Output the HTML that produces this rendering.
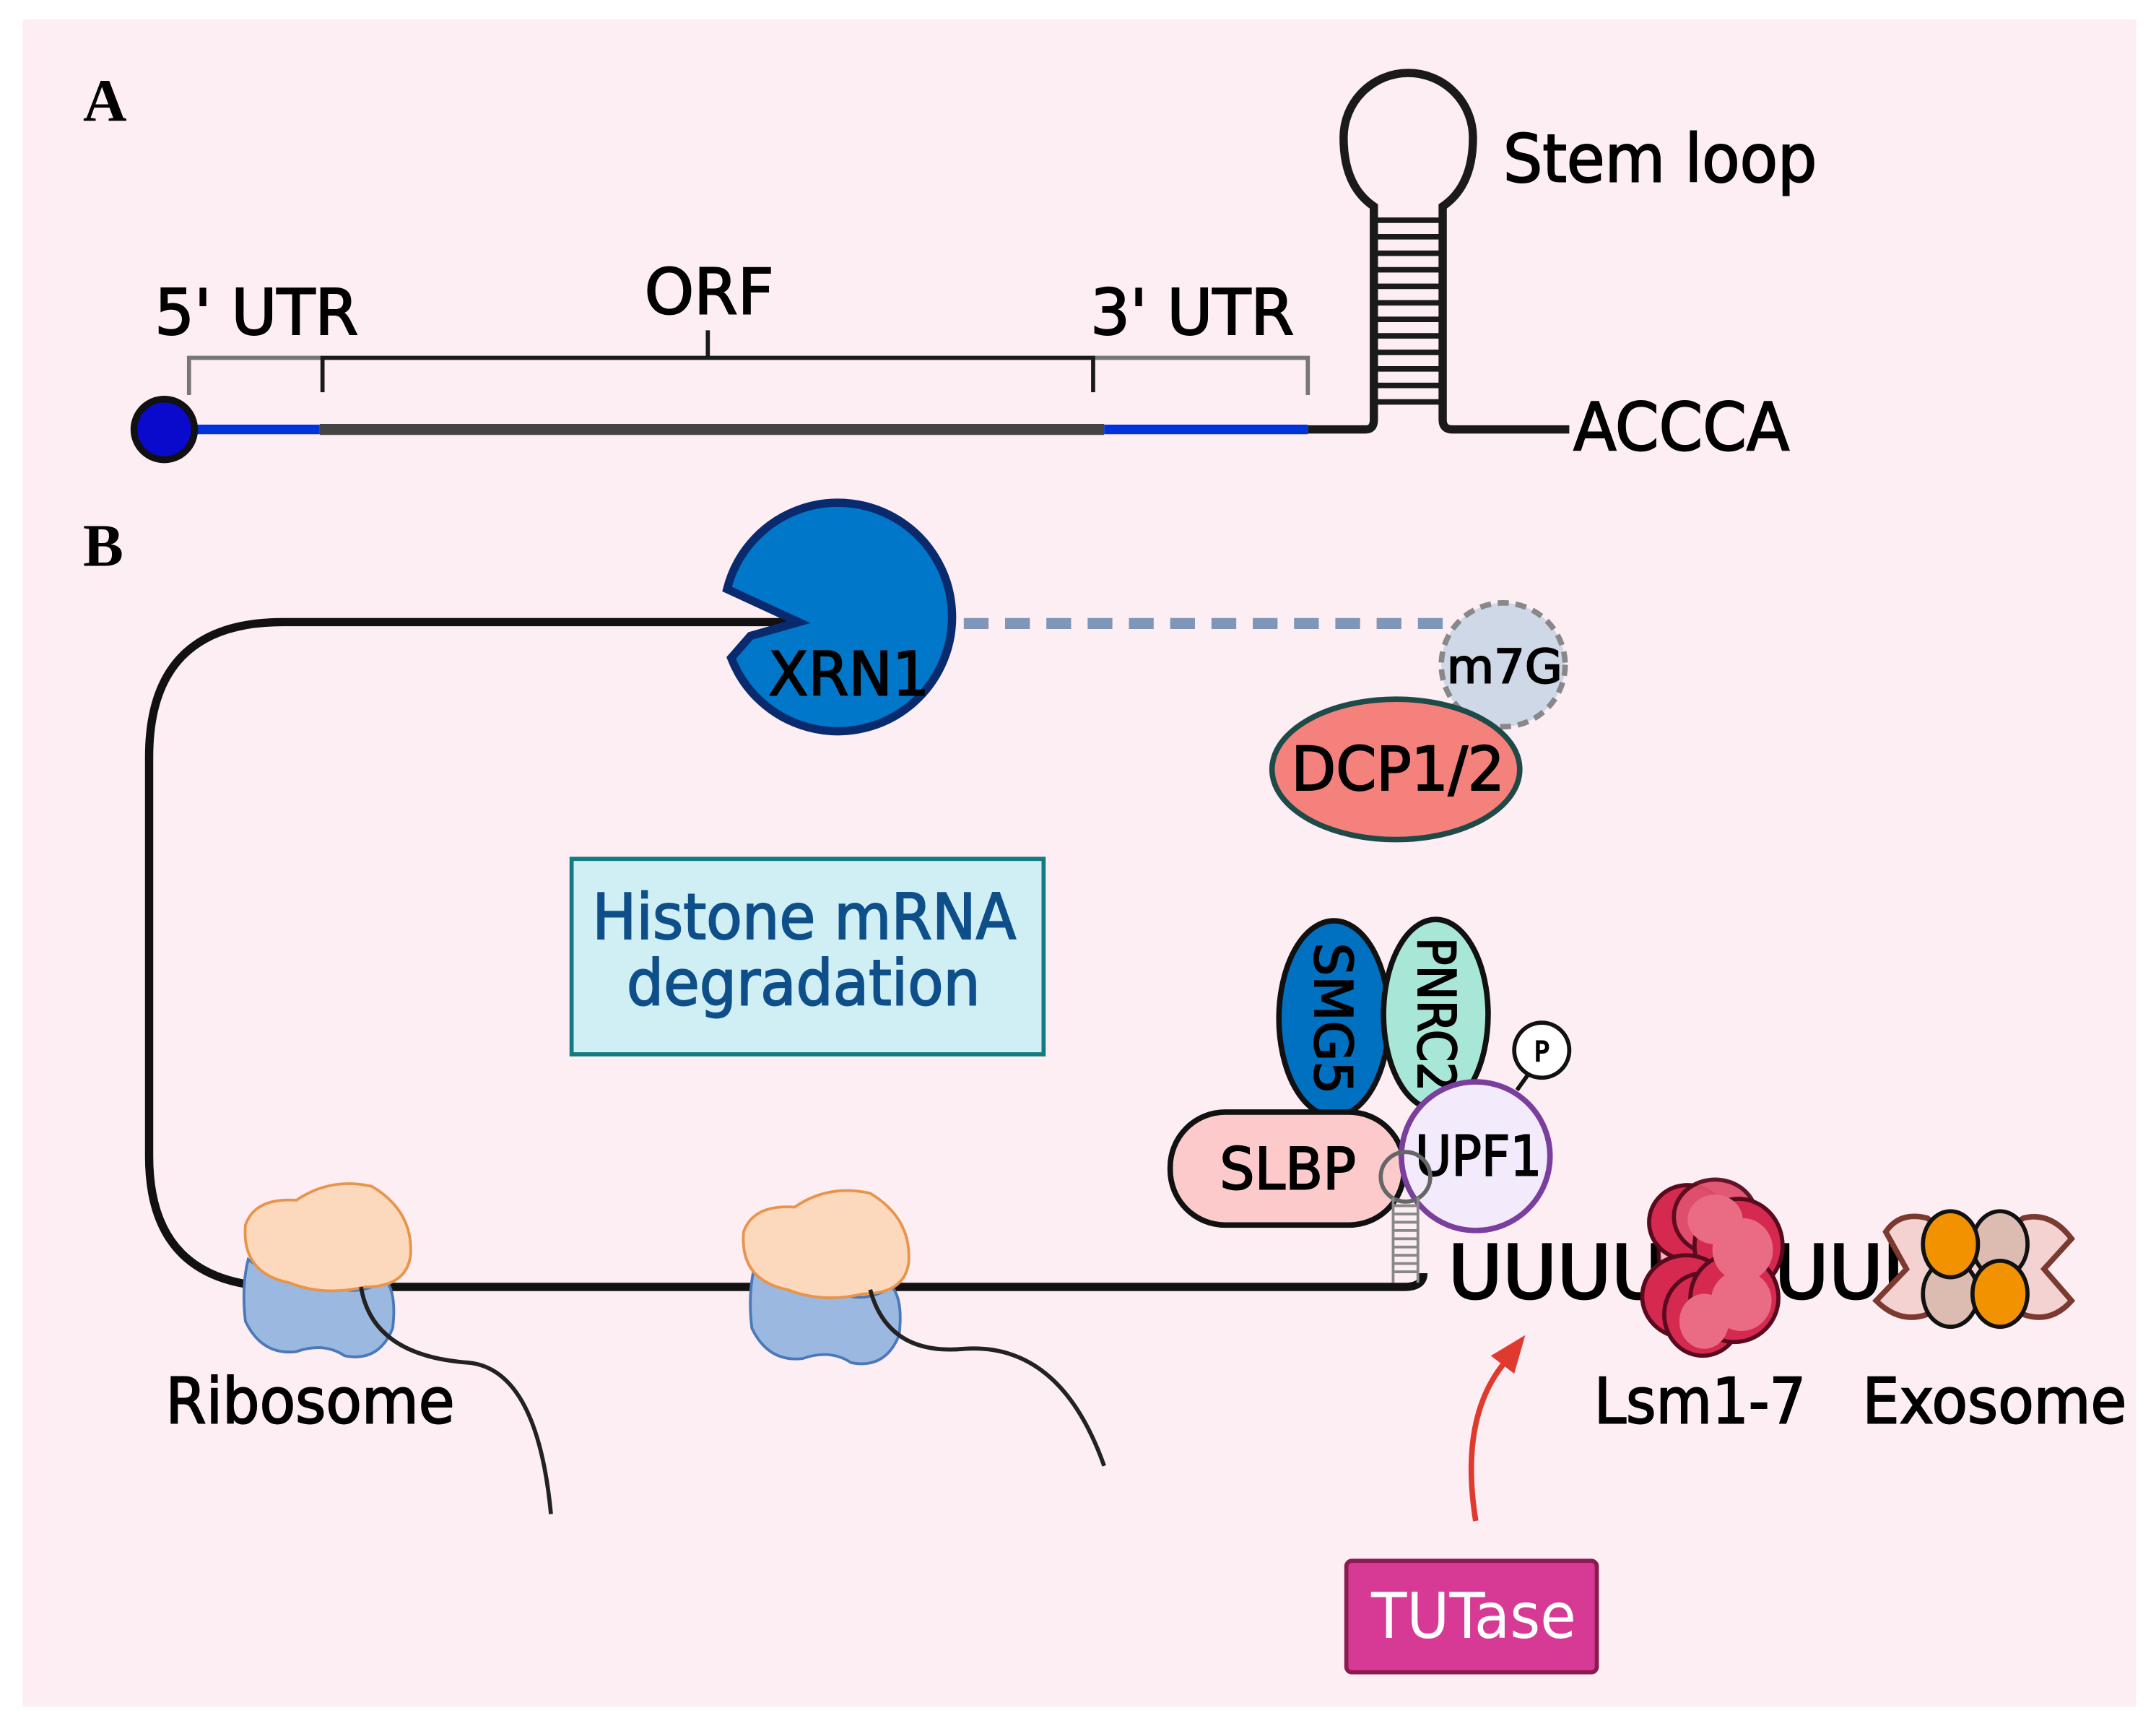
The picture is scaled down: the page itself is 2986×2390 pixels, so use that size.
<!DOCTYPE html>
<html><head><meta charset="utf-8"><style>html,body{margin:0;padding:0;background:#fff}svg{display:block}text{font-family:"DejaVu Sans Condensed","DejaVu Sans","Liberation Sans",sans-serif;font-weight:normal;stroke:#000;stroke-width:1}</style></head>
<body>
<svg width="2986" height="2390" viewBox="0 0 1566 1254" xmlns="http://www.w3.org/2000/svg">
<rect x="0" y="0" width="1566" height="1254" fill="#fff"/>
<rect x="16" y="14" width="1536" height="1226" fill="#fdeef4"/>
<text x="60" y="88" font-size="44" style="font-family:'Liberation Serif',serif;font-weight:bold;stroke:none">A</text>
<text x="60" y="411" font-size="44" style="font-family:'Liberation Serif',serif;font-weight:bold;stroke:none">B</text>
<!-- Panel A -->
<line x1="140" y1="312" x2="232" y2="312" stroke="#0033dd" stroke-width="7"/>
<line x1="232" y1="312" x2="802" y2="312" stroke="#444" stroke-width="8"/>
<line x1="802" y1="312" x2="950" y2="312" stroke="#0033dd" stroke-width="7"/>
<path d="M950 312 H992 Q998 312 998 305 V150 Q976 135 976 100 A47 47 0 1 1 1070 100 Q1070 135 1048 150 V305 Q1048 312 1055 312 H1140" fill="none" stroke="#1a1a1a" stroke-width="6"/>
<g stroke="#1a1a1a" stroke-width="4">
<line x1="998" y1="160" x2="1048" y2="160"/><line x1="998" y1="172" x2="1048" y2="172"/><line x1="998" y1="184" x2="1048" y2="184"/><line x1="998" y1="196" x2="1048" y2="196"/><line x1="998" y1="208" x2="1048" y2="208"/><line x1="998" y1="220" x2="1048" y2="220"/><line x1="998" y1="232" x2="1048" y2="232"/><line x1="998" y1="244" x2="1048" y2="244"/><line x1="998" y1="256" x2="1048" y2="256"/><line x1="998" y1="268" x2="1048" y2="268"/><line x1="998" y1="280" x2="1048" y2="280"/><line x1="998" y1="292" x2="1048" y2="292"/>
</g>
<circle cx="119" cy="312" r="22" fill="#0a0acc" stroke="#111" stroke-width="5"/>
<path d="M137 287 V260 H234 M794 260 H950 V287" fill="none" stroke="#777" stroke-width="3"/>
<path d="M234 285 V260 H794 V285 M514 260 V240" fill="none" stroke="#1a1a1a" stroke-width="3"/>
<text x="112" y="243" font-size="46" textLength="148" lengthAdjust="spacingAndGlyphs">5' UTR</text>
<text x="468" y="228" font-size="46" textLength="94" lengthAdjust="spacingAndGlyphs">ORF</text>
<text x="792" y="243" font-size="46" textLength="148" lengthAdjust="spacingAndGlyphs">3' UTR</text>
<text x="1092" y="132" font-size="48" textLength="228" lengthAdjust="spacingAndGlyphs">Stem loop</text>
<text x="1143" y="327" font-size="48" textLength="157" lengthAdjust="spacingAndGlyphs">ACCCA</text>
<!-- Panel B -->
<path d="M580 452 H205 Q108 452 108 550 V840 Q108 935 205 935 H1020 Q1034 935 1034 925" fill="none" stroke="#111" stroke-width="6"/>
<line x1="700" y1="453" x2="1050" y2="453" stroke="#8096b8" stroke-width="8" stroke-dasharray="18 12"/>
<path d="M545 462 L531 478 A83 83 0 1 0 528 428 L580 452 Z" fill="#0077c8" stroke="#0a2a6e" stroke-width="6" stroke-linejoin="miter"/>
<text x="558" y="505" font-size="44" textLength="117" lengthAdjust="spacingAndGlyphs">XRN1</text>
<circle cx="1092" cy="483" r="45" fill="#cfd8e6" stroke="#888" stroke-width="4" stroke-dasharray="8 5"/>
<text x="1051" y="496" font-size="34" textLength="84" lengthAdjust="spacingAndGlyphs">m7G</text>
<ellipse cx="1014" cy="559" rx="90" ry="51" fill="#f4817b" stroke="#1e4a48" stroke-width="4"/>
<text x="938" y="574" font-size="44" textLength="155" lengthAdjust="spacingAndGlyphs">DCP1/2</text>
<rect x="415" y="624" width="343" height="142" fill="#cfeff5" stroke="#127a80" stroke-width="3"/>
<text x="430" y="682" font-size="46" fill="#0e4f8a" style="stroke:#0e4f8a" textLength="308" lengthAdjust="spacingAndGlyphs">Histone mRNA</text>
<text x="455" y="730" font-size="46" fill="#0e4f8a" style="stroke:#0e4f8a" textLength="257" lengthAdjust="spacingAndGlyphs">degradation</text>
<line x1="1102" y1="792" x2="1112" y2="778" stroke="#111" stroke-width="3"/>
<circle cx="1120" cy="763" r="20" fill="#fff" stroke="#111" stroke-width="3"/>
<text x="1120" y="771" font-size="20" text-anchor="middle">P</text>
<ellipse cx="969" cy="740" rx="40" ry="71" fill="#0070c0" stroke="#111" stroke-width="4"/>
<text transform="translate(955,740) rotate(90)" font-size="38" text-anchor="middle" textLength="110" lengthAdjust="spacingAndGlyphs">SMG5</text>
<ellipse cx="1043" cy="737" rx="38" ry="69" fill="#a8e6d8" stroke="#111" stroke-width="4"/>
<text transform="translate(1030,737) rotate(90)" font-size="38" text-anchor="middle" textLength="112" lengthAdjust="spacingAndGlyphs">PNRC2</text>
<rect x="850" y="808" width="170" height="82" rx="40" fill="#fccaca" stroke="#111" stroke-width="4"/>
<text x="886" y="864" font-size="42" textLength="99" lengthAdjust="spacingAndGlyphs">SLBP</text>
<circle cx="1072" cy="840" r="54" fill="#f3eafb" stroke="#7a3f9c" stroke-width="4"/>
<text x="1028" y="854" font-size="40" textLength="92" lengthAdjust="spacingAndGlyphs">UPF1</text>
<circle cx="1021" cy="855" r="18" fill="none" stroke="#666" stroke-width="3"/>
<g stroke="#888" stroke-width="2">
<line x1="1012" y1="870" x2="1012" y2="932"/><line x1="1030" y1="870" x2="1030" y2="932"/>
<line x1="1012" y1="876" x2="1030" y2="876"/><line x1="1012" y1="882" x2="1030" y2="882"/><line x1="1012" y1="888" x2="1030" y2="888"/><line x1="1012" y1="894" x2="1030" y2="894"/><line x1="1012" y1="900" x2="1030" y2="900"/><line x1="1012" y1="906" x2="1030" y2="906"/><line x1="1012" y1="912" x2="1030" y2="912"/><line x1="1012" y1="918" x2="1030" y2="918"/><line x1="1012" y1="924" x2="1030" y2="924"/>
</g>
<text x="1052" y="943" font-size="54" style="font-family:'DejaVu Sans',sans-serif;stroke-width:1.5">UUUUUUUUU</text>
<!-- Lsm -->
<g stroke="#5a0a1e" stroke-width="3">
<ellipse cx="1225" cy="910" rx="20" ry="30" fill="#f4a5b8" opacity="0.8"/>
<ellipse cx="1226" cy="888" rx="28" ry="27" fill="#d6294f"/>
<ellipse cx="1246" cy="884" rx="30" ry="27" fill="#e0506e" opacity="0.95"/>
<ellipse cx="1263" cy="905" rx="32" ry="34" fill="#d6294f"/>
<ellipse cx="1225" cy="942" rx="32" ry="30" fill="#d6294f"/>
<ellipse cx="1237" cy="955" rx="28" ry="30" fill="#d6294f"/>
<ellipse cx="1260" cy="943" rx="32" ry="32" fill="#d6294f"/>
</g>
<g fill="#ea6b84"><ellipse cx="1266" cy="908" rx="22" ry="23"/><ellipse cx="1265" cy="945" rx="22" ry="22"/><ellipse cx="1238" cy="960" rx="18" ry="20"/><ellipse cx="1246" cy="886" rx="20" ry="18"/></g>
<!-- Exosome -->
<path d="M1370 895 Q1380 880 1400 885 L1415 895 L1455 895 L1470 885 Q1490 880 1505 900 L1485 922 L1505 945 Q1490 962 1470 955 L1455 945 L1415 945 L1400 955 Q1380 962 1363 945 L1385 922 Z" fill="#f5d2d2" stroke="#7a3a30" stroke-width="4"/>
<g stroke="#111" stroke-width="3">
<ellipse cx="1453" cy="904" rx="20" ry="24" fill="#dcbcb0"/>
<ellipse cx="1417" cy="940" rx="20" ry="24" fill="#dcbcb0"/>
<ellipse cx="1417" cy="904" rx="20" ry="24" fill="#f39200"/>
<ellipse cx="1453" cy="940" rx="20" ry="24" fill="#f39200"/>
</g>
<!-- Ribosomes -->
<g>
<path d="M180 915 Q175 935 178 960 Q190 985 215 982 Q235 975 250 985 Q275 990 285 965 Q288 940 280 930 Q255 945 235 930 Q215 940 180 915 Z" fill="#9ab8e0" stroke="#4a78b8" stroke-width="2"/>
<path d="M178 890 Q185 870 215 872 Q240 855 270 862 Q300 880 298 912 Q295 935 265 935 Q235 942 210 932 Q175 925 178 890 Z" fill="#fcd8bd" stroke="#e8944a" stroke-width="2"/>
<path d="M262 935 Q270 985 340 990 Q390 995 400 1100" fill="none" stroke="#222" stroke-width="3"/>
</g>
<g>
<path d="M548 920 Q543 940 546 965 Q558 990 583 987 Q603 980 618 990 Q643 995 653 970 Q656 945 648 935 Q623 950 603 935 Q583 945 548 920 Z" fill="#9ab8e0" stroke="#4a78b8" stroke-width="2"/>
<path d="M540 895 Q547 875 577 877 Q602 860 632 867 Q662 885 660 917 Q657 940 627 940 Q597 947 572 937 Q537 930 540 895 Z" fill="#fcd8bd" stroke="#e8944a" stroke-width="2"/>
<path d="M632 937 Q645 985 700 980 Q770 975 802 1065" fill="none" stroke="#222" stroke-width="3"/>
</g>
<!-- Red arrow -->
<path d="M1072 1105 Q1060 1030 1093 990" fill="none" stroke="#e03a2e" stroke-width="4"/>
<path d="M1108 970 L1083 985 L1100 998 Z" fill="#e03a2e"/>
<rect x="978" y="1134" width="182" height="81" rx="4" fill="#d63a95" stroke="#8a1a50" stroke-width="3"/>
<text x="996" y="1190" font-size="46" fill="#fff" style="stroke:none" textLength="149" lengthAdjust="spacingAndGlyphs">TUTase</text>
<text x="120" y="1034" font-size="46" textLength="210" lengthAdjust="spacingAndGlyphs">Ribosome</text>
<text x="1158" y="1034" font-size="46" textLength="154" lengthAdjust="spacingAndGlyphs">Lsm1-7</text>
<text x="1353" y="1034" font-size="46" textLength="192" lengthAdjust="spacingAndGlyphs">Exosome</text>
</svg>
</body></html>
